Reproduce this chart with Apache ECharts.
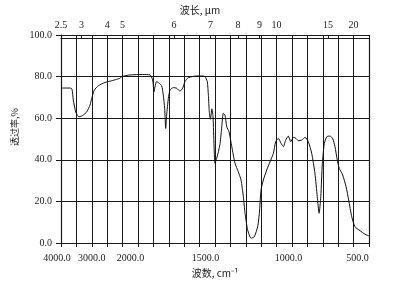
<!DOCTYPE html>
<html>
<head>
<meta charset="utf-8">
<script src="https://cdn.jsdelivr.net/npm/echarts@6/dist/echarts.min.js"></script>
<style>
  html, body { margin:0; padding:0; background:#fff; }
  #plot { width:397px; height:288px; }
</style>
</head>
<body>
<div id="plot"></div>
<script>
// IR spectrum
const wavenumber = [4000,3700,3643,3600,3523,3460,3416,3340,3276,3166,3058,3003,2919,2789,2571,2354,2192,2080,2029,
  1952,1870,1822,1805,1796,1790,1779,1762,1746,1736,1727,1720,1714,1703,1692,1671,1649,1627,1610,1595,1573,1519,1480,
  1465,1450,1443,1437,1430,1420,1413,1400,1389,1378,1367,1356,1346,1335,1324,1309,1291,1270,1249,1231,1216,1205,1188,
  1166,1145,1123,1112,1101,1086,1064,1043,1021,1006,989,971,956,941,924,908,891,874,859,837,815,794,772,751,736,724,
  713,703,690,674,653,636,621,606,593,571,549,532,512,491,458,426,400];
const transmittance = [74.5,74.5,74,68.7,63,61.2,60.7,61,61.5,63,66.3,69.5,73.5,75.6,77.2,78,78.7,79.2,80,
  80.8,81,80.8,78.4,72.7,75,77.6,76.8,75.6,71.2,64.8,55.1,61.5,69.5,73.5,74.7,74.4,73,74.4,77.6,79.5,80.3,80.3,
  80,77.6,71,63,59.5,64.5,61,38.3,40.7,43.9,47.9,55.9,62.4,61.5,55.9,53.5,46.3,38.3,34.3,30.3,22.3,14.3,6.3,
  2.3,3,7.8,14.3,25.5,30.3,35.1,39,43.1,48.7,50.3,47.9,46.3,49.5,51.4,48.7,50.8,50.3,49.2,49.5,50.8,48.7,43.1,33.5,22.3,14.3,
  22.3,38.3,47.9,51.1,51.4,50.3,46.3,39.9,35.9,32.7,27.1,20.7,12.6,7.8,5.9,4.2,3.4];

const bottomTicks = [4000, 3000, 2000, 1500, 1000, 500];          // cm-1
const bottomShift = [-4, 0, 8, 6, 12, 4];                           // label nudge as printed
const topTicks    = [2.5, 3, 4, 5, 6, 7, 8, 9, 10, 15, 20];         // um
const yTicks      = [0, 20, 40, 60, 80, 100];

// chart paper: 500 cm-1 per cell above 2000, 100 cm-1 per cell below
function toU(w) { return w >= 2000 ? (4000 - w) / 500 : 4 + (2000 - w) / 100; }
function fromU(u) { return u <= 4 ? 4000 - u * 500 : 2000 - (u - 4) * 100; }

const serif = '"Liberation Serif", "DejaVu Serif", serif';
const cjk = '"Noto Sans CJK SC", sans-serif';
const ink = '#1a1a1a';

const rich = {};
bottomShift.forEach((d, i) => {
  rich['s' + i] = { fontFamily:serif, fontSize:10, color:ink,
    padding: d >= 0 ? [0, 0, 0, 2 * d] : [0, -2 * d, 0, 0] };
});
const cells = [];
for (let i = 0; i <= 20; i++) cells.push(i);

const chart = echarts.init(document.getElementById('plot'), null, { renderer:'canvas' });

const box = { left:61, right:28, top:35, bottom:45 };

chart.setOption({
  backgroundColor:'#fff',
  animation:false,
  grid: [ box, Object.assign({}, box) ],
  xAxis: [
    { type:'value', gridIndex:0, min:0, max:20, interval:1, position:'bottom',
      name:'波数, cm⁻¹', nameLocation:'middle', nameGap:22,
      nameTextStyle:{ color:ink, fontFamily:cjk, fontSize:10 },
      axisLine:{ onZero:false, lineStyle:{ color:ink, width:1.2 } },
      axisTick:{ show:true, length:4, lineStyle:{ color:ink }, customValues: cells },
      axisLabel:{ color:ink, fontFamily:serif, fontSize:10, margin:10,
        customValues: bottomTicks.map(toU),
        formatter: v => {
          const w = Math.round(fromU(v));
          const i = bottomTicks.indexOf(w);
          return '{s' + i + '|' + w.toFixed(1) + '}';
        },
        rich: rich },
      splitLine:{ show:true, lineStyle:{ color:ink, width:1 } } },
    { type:'value', gridIndex:1, min:0, max:20, position:'top',
      name:'波长, μm', nameLocation:'middle', nameGap:23,
      nameTextStyle:{ color:ink, fontFamily:cjk, fontSize:10, padding:[0,30,0,0] },
      axisLine:{ onZero:false, lineStyle:{ color:ink, width:1.2 } },
      axisTick:{ show:true, length:2, lineStyle:{ color:ink },
        customValues: topTicks.map(l => toU(10000 / l)) },
      axisLabel:{ color:ink, fontFamily:serif, fontSize:10, margin:8,
        customValues: topTicks.map(l => toU(10000 / l)),
        formatter: v => String(Number((10000 / fromU(v)).toFixed(1))) },
      splitLine:{ show:false } }
  ],
  yAxis: [
    { type:'value', gridIndex:0, min:0, max:100, interval:10,
      name:'透过率,%', nameLocation:'middle', nameGap:29, nameRotate:90,
      nameTextStyle:{ color:ink, fontFamily:cjk, fontSize:9, padding:[0,0,0,24] },
      axisLine:{ show:true, onZero:false, lineStyle:{ color:ink, width:1.2 } },
      axisTick:{ show:true, length:5, lineStyle:{ color:ink },
        customValues: yTicks },
      axisLabel:{ color:ink, fontFamily:serif, fontSize:10, margin:9,
        customValues: yTicks,
        formatter: v => v.toFixed(1) },
      splitLine:{ show:true, lineStyle:{ color:ink, width:1 } } },
    { type:'value', gridIndex:1, min:0, max:100, position:'right',
      axisLine:{ show:true, onZero:false, lineStyle:{ color:ink, width:1.2 } },
      axisTick:{ show:false }, axisLabel:{ show:false }, splitLine:{ show:false } }
  ],
  series: [
    { type:'line', xAxisIndex:0, yAxisIndex:0,
      data: wavenumber.map((w, i) => [toU(w), transmittance[i]]),
      showSymbol:false, smooth:0.2,
      lineStyle:{ color:'#111', width:1 } }
  ]
});
</script>
</body>
</html>
